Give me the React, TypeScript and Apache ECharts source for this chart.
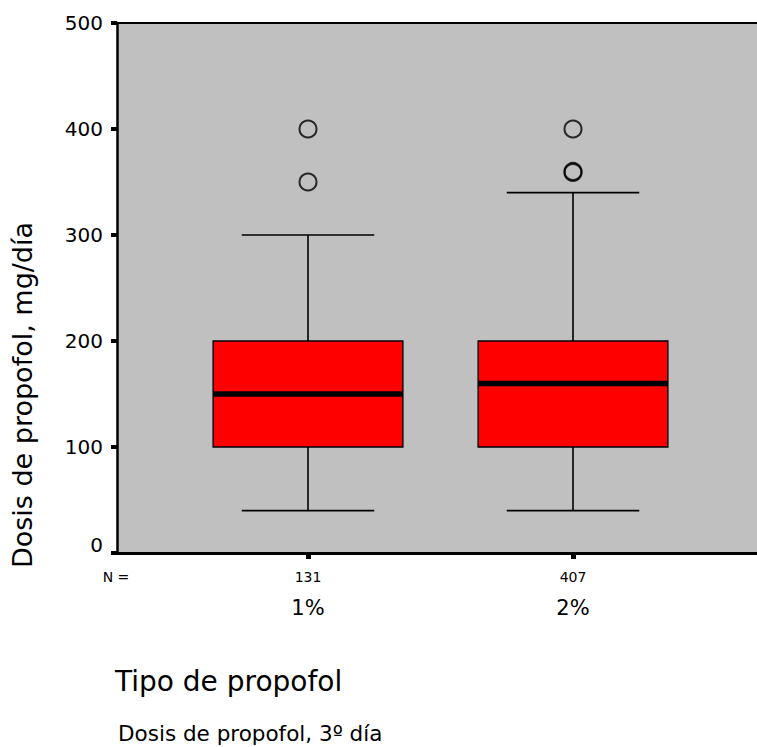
import React, { useEffect, useRef } from "react";
import * as echarts from "echarts";

// Box-and-whisker summary per propofol type
const categories = ["1%", "2%"];
const counts = ["131", "407"];
const whiskerLow = [40, 40];
const quartile1 = [100, 100];
const medians = [150, 160];
const quartile3 = [200, 200];
const whiskerHigh = [300, 340];
const outliers: number[][] = [
  [0, 350],
  [0, 400],
  [1, 359],
  [1, 360],
  [1, 400],
];
const yTicks = [0, 100, 200, 300, 400, 500];

const FONT = "DejaVu Sans";

export default function App() {
  const ref = useRef<HTMLDivElement>(null);

  useEffect(() => {
    if (!ref.current) return;
    const chart = echarts.init(ref.current, null, { renderer: "svg" });

    const boxData = categories.map((_, i) => [
      i,
      whiskerLow[i],
      quartile1[i],
      medians[i],
      quartile3[i],
      whiskerHigh[i],
    ]);

    const renderBox = (params: any, api: any) => {
      const idx = api.value(0);
      const band = api.size([1, 0])[0];
      const boxHalf = band * 0.358;
      const capHalf = band * 0.25;
      const pLow = api.coord([idx, api.value(1)]);
      const pQ1 = api.coord([idx, api.value(2)]);
      const pMed = api.coord([idx, api.value(3)]);
      const pQ3 = api.coord([idx, api.value(4)]);
      const pHigh = api.coord([idx, api.value(5)]);
      const cx = pQ1[0];
      const lineStyle = { stroke: "#000", lineWidth: 1.6 };
      return {
        type: "group",
        children: [
          { type: "line", shape: { x1: cx, y1: pQ1[1], x2: cx, y2: pLow[1] }, style: lineStyle },
          { type: "line", shape: { x1: cx, y1: pQ3[1], x2: cx, y2: pHigh[1] }, style: lineStyle },
          { type: "line", shape: { x1: cx - capHalf, y1: pLow[1], x2: cx + capHalf, y2: pLow[1] }, style: lineStyle },
          { type: "line", shape: { x1: cx - capHalf, y1: pHigh[1], x2: cx + capHalf, y2: pHigh[1] }, style: lineStyle },
          {
            type: "rect",
            shape: { x: cx - boxHalf, y: pQ3[1], width: boxHalf * 2, height: pQ1[1] - pQ3[1] },
            style: { fill: "#FF0000", stroke: "#000", lineWidth: 1.4 },
          },
          {
            type: "line",
            shape: { x1: cx - boxHalf, y1: pMed[1], x2: cx + boxHalf, y2: pMed[1] },
            style: { stroke: "#000", lineWidth: 5.5 },
          },
        ],
      };
    };

    chart.setOption({
      animation: false,
      grid: [
        {
          left: 117,
          right: 0,
          top: 23,
          bottom: 194,
          show: true,
          backgroundColor: "#C0C0C0",
          borderWidth: 0,
        },
        { left: 175.5, width: 530, top: 23, bottom: 194 },
      ],
      xAxis: [
        {
          type: "value",
          gridIndex: 0,
          position: "bottom",
          axisLine: { show: true, onZero: false, lineStyle: { color: "#000", width: 3 } },
          axisTick: { show: false },
          axisLabel: { show: false },
          splitLine: { show: false },
        },
        {
          type: "value",
          gridIndex: 0,
          position: "top",
          axisLine: { show: true, onZero: false, lineStyle: { color: "#000", width: 2 } },
          axisTick: { show: false },
          axisLabel: { show: false },
          splitLine: { show: false },
        },
        {
          type: "category",
          gridIndex: 1,
          data: categories,
          position: "bottom",
          axisLine: { show: false },
          axisTick: {
            show: true,
            alignWithLabel: true,
            length: 6,
            lineStyle: { color: "#000", width: 5 },
          },
          axisLabel: {
            margin: 12,
            formatter: (_v: string, i: number) => `{n|${counts[i]}}\n{t|${categories[i]}}`,
            rich: {
              n: { fontFamily: FONT, fontSize: 14, color: "#000", lineHeight: 24 },
              t: { fontFamily: FONT, fontSize: 21, color: "#000", lineHeight: 38 },
            },
          },
          splitLine: { show: false },
        },
      ],
      yAxis: [
        {
          type: "value",
          gridIndex: 0,
          min: 0,
          max: 500,
          interval: 100,
          axisLine: { show: true, lineStyle: { color: "#000", width: 2.5 } },
          axisTick: { show: true, length: 6, lineStyle: { color: "#000", width: 4 } },
          axisLabel: {
            margin: 14,
            color: "#000",
            fontFamily: FONT,
            fontSize: 20,
            customValues: yTicks,
            formatter: (v: number) => (v === 0 ? `{z|${v}}` : `${v}`),
            rich: {
              z: { fontFamily: FONT, fontSize: 20, color: "#000", padding: [0, 0, 16, 0] },
            },
          },
          splitLine: { show: false },
        },
        {
          type: "value",
          gridIndex: 1,
          min: 0,
          max: 500,
          interval: 100,
          show: false,
          splitLine: { show: false },
        },
      ],
      series: [
        {
          type: "custom",
          xAxisIndex: 2,
          yAxisIndex: 1,
          data: boxData,
          encode: { x: 0, y: [1, 2, 3, 4, 5] },
          renderItem: renderBox,
          silent: true,
        },
        {
          type: "scatter",
          xAxisIndex: 2,
          yAxisIndex: 1,
          data: outliers,
          symbol: "circle",
          symbolSize: 17,
          itemStyle: { color: "rgba(0,0,0,0)", borderColor: "#000", borderWidth: 2 },
          silent: true,
        },
      ],
      graphic: [
        {
          type: "text",
          x: 22,
          y: 395,
          rotation: Math.PI / 2,
          style: {
            text: "Dosis de propofol, mg/día",
            fontFamily: FONT,
            fontSize: 27,
            fill: "#000",
            align: "center",
            verticalAlign: "middle",
          },
        },
        {
          type: "text",
          x: 116,
          y: 577,
          style: {
            text: "N =",
            fontFamily: FONT,
            fontSize: 14,
            fill: "#000",
            align: "center",
            verticalAlign: "middle",
          },
        },
        {
          type: "text",
          x: 115,
          y: 681,
          style: {
            text: "Tipo de propofol",
            fontFamily: FONT,
            fontSize: 28,
            fill: "#000",
            align: "left",
            verticalAlign: "middle",
          },
        },
        {
          type: "text",
          x: 118,
          y: 733,
          style: {
            text: "Dosis de propofol, 3º día",
            fontFamily: FONT,
            fontSize: 21.5,
            fill: "#000",
            align: "left",
            verticalAlign: "middle",
          },
        },
      ],
    });

    return () => chart.dispose();
  }, []);

  return (
    <div
      ref={ref}
      style={{ position: "fixed", left: 0, top: 0, width: 757, height: 747, background: "#fff" }}
    />
  );
}
